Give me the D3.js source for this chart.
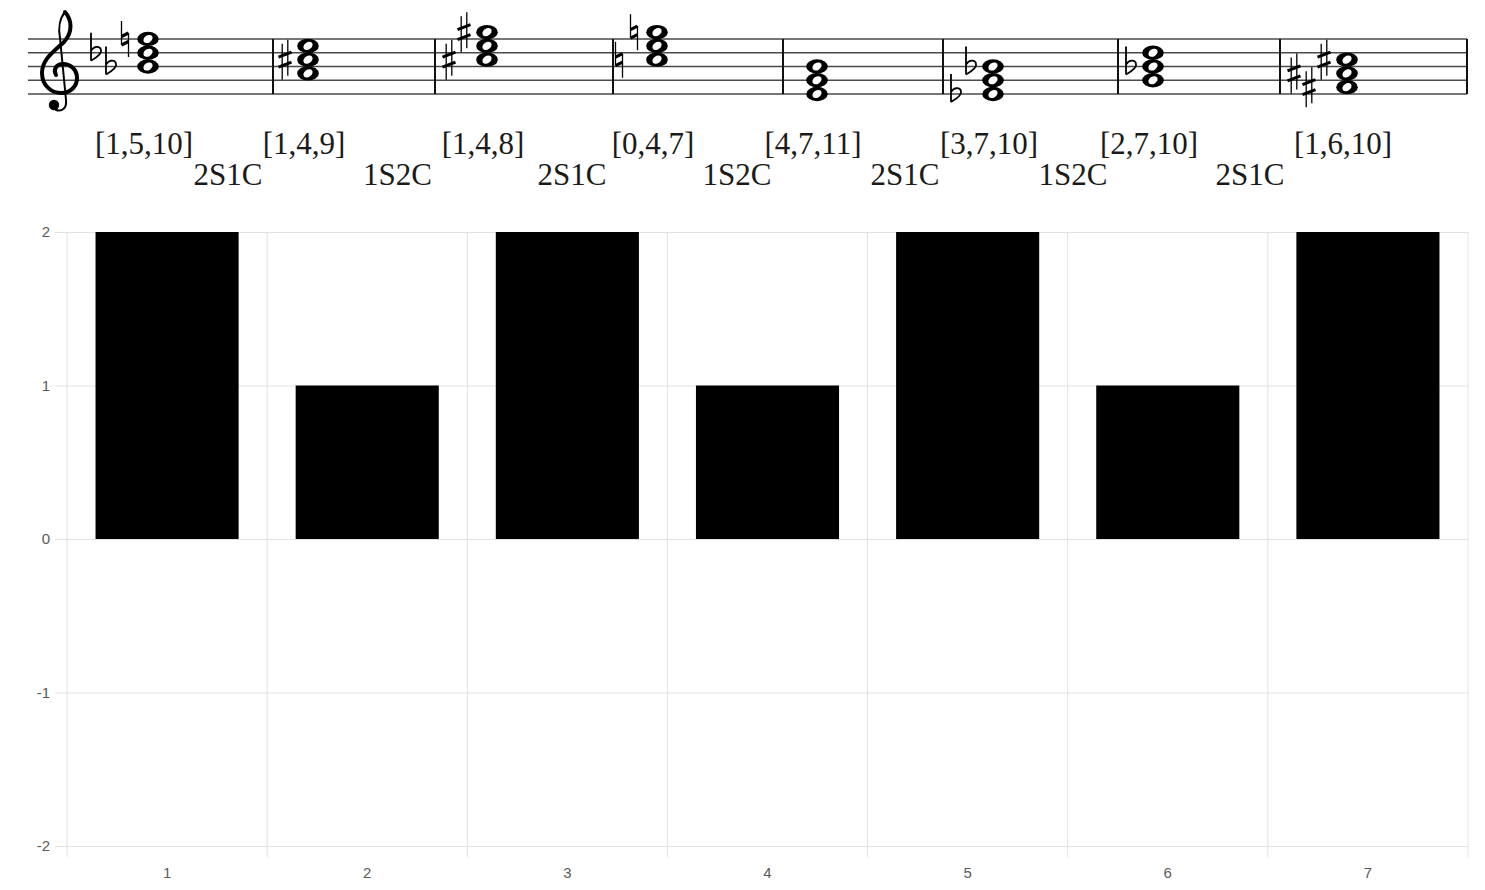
<!DOCTYPE html>
<html>
<head>
<meta charset="utf-8">
<script src="https://cdn.jsdelivr.net/npm/d3@7"></script>
<style>
  body { margin: 0; background: #fff; }
  svg { display: block; }
</style>
</head>
<body>
<svg id="chart" width="1485" height="890"></svg>
<script>
// chord data: pitch-class sets, staff steps above E4 (bottom line = 0) and accidentals
const chordLabels = ["[1,5,10]", "[1,4,9]", "[1,4,8]", "[0,4,7]", "[4,7,11]", "[3,7,10]", "[2,7,10]", "[1,6,10]"];
const chordSteps = [[4, 6, 8], [3, 5, 7], [5, 7, 9], [5, 7, 9], [0, 2, 4], [0, 2, 4], [2, 4, 6], [1, 3, 5]];
const chordAccidentals = [
  ["b", "b", "n"], ["", "#", ""], ["#", "", "#"], ["n", "", "n"],
  ["", "", ""], ["b", "", "b"], ["", "b", ""], ["#", "#", "#"]
];
const moveLabels = ["2S1C", "1S2C", "2S1C", "1S2C", "2S1C", "1S2C", "2S1C"];

// bar chart data
const categories = ["1", "2", "3", "4", "5", "6", "7"];
const values = [2, 1, 2, 1, 2, 1, 2];
const yTicks = [-2, -1, 0, 1, 2];

// staff layout (engraving positions)
const chordX = [148, 308, 487, 657, 817, 993, 1153, 1347];
const barX = [273, 435, 613, 783, 943, 1118, 1280, 1467];

const svg = d3.select("#chart");

// ---------- staff ----------
const staff = svg.append("g");
const sy = d3.scaleLinear().domain([0, 8]).range([94, 39]);

staff.selectAll("line.staff")
  .data([0, 2, 4, 6, 8])
  .join("line")
  .attr("x1", 28).attr("x2", 1467)
  .attr("y1", d => sy(d)).attr("y2", d => sy(d))
  .attr("stroke", "#4a4a4a").attr("stroke-width", 1.3);

staff.selectAll("line.bar")
  .data(barX)
  .join("line")
  .attr("x1", d => d).attr("x2", d => d)
  .attr("y1", sy(8)).attr("y2", sy(0))
  .attr("stroke", "#111").attr("stroke-width", 2);

// treble clef
const clef = staff.append("g").attr("fill", "none").attr("stroke", "#000").attr("stroke-linecap", "round");
clef.append("path")
  .attr("stroke-width", 4)
  .attr("d", "M65 12 C72 20,73 32,64 42 C52 53,42 60,42 73 C42 86,52 93,61 93 C71 93,77 86,77 78 C77 70,71 64,63 64 C56 64,53 70,56 75");
clef.append("path")
  .attr("stroke-width", 2)
  .attr("d", "M65 12 C60 18,58 28,60 38 L66 100 C67 108,62 112,56 110");
clef.append("circle").attr("cx", 54).attr("cy", 105).attr("r", 5.2).attr("fill", "#000").attr("stroke", "none");

function accidentalPath(type, cx, cy) {
  const p = d3.path();
  if (type === "#") {
    p.moveTo(cx - 2.8, cy - 16); p.lineTo(cx - 2.8, cy + 20);
    p.moveTo(cx + 2.8, cy - 20); p.lineTo(cx + 2.8, cy + 16);
  } else if (type === "n") {
    p.moveTo(cx - 3.5, cy - 18); p.lineTo(cx - 3.5, cy + 6);
    p.moveTo(cx + 3.5, cy - 6); p.lineTo(cx + 3.5, cy + 18);
  } else {
    p.moveTo(cx - 4, cy - 20); p.lineTo(cx - 4, cy + 8);
    p.moveTo(cx - 4, cy + 8);
    p.bezierCurveTo(cx + 3, cy + 4, cx + 7, cy, cx + 6, cy - 3);
    p.bezierCurveTo(cx + 5, cy - 7, cx - 1, cy - 7, cx - 4, cy - 2);
  }
  return p.toString();
}
function accidentalBars(type, cx, cy) {
  const p = d3.path();
  if (type === "#") {
    p.moveTo(cx - 6.5, cy - 2.5); p.lineTo(cx + 6.5, cy - 7.5);
    p.moveTo(cx - 6.5, cy + 7.5); p.lineTo(cx + 6.5, cy + 2.5);
  } else if (type === "n") {
    p.moveTo(cx - 3.5, cy - 2.5); p.lineTo(cx + 3.5, cy - 6);
    p.moveTo(cx - 3.5, cy + 6); p.lineTo(cx + 3.5, cy + 2.5);
  }
  return p.toString();
}

chordSteps.forEach((steps, i) => {
  const cx = chordX[i];
  const g = staff.append("g");
  // whole notes
  steps.forEach(s => {
    g.append("ellipse").attr("cx", cx).attr("cy", sy(s)).attr("rx", 10.8).attr("ry", 7.2).attr("fill", "#000");
    g.append("ellipse").attr("cx", 0).attr("cy", 0).attr("rx", 5).attr("ry", 3.6)
      .attr("transform", `translate(${cx},${sy(s)}) rotate(-35)`).attr("fill", "#fff");
  });
  // accidentals: top first, then bottom, then middle
  const acc = steps.map((s, k) => ({ s, a: chordAccidentals[i][k] })).filter(d => d.a);
  acc.sort((a, b) => b.s - a.s);
  const order = acc.length === 3 ? [acc[0], acc[2], acc[1]] : acc;
  order.forEach((d, col) => {
    const ax = cx - 23 - col * 15;
    const ay = sy(d.s);
    g.append("path").attr("d", accidentalPath(d.a, ax, ay))
      .attr("fill", "none").attr("stroke", "#000").attr("stroke-width", d.a === "b" ? 1.8 : 1.3);
    if (d.a !== "b") {
      g.append("path").attr("d", accidentalBars(d.a, ax, ay))
        .attr("fill", "none").attr("stroke", "#000").attr("stroke-width", 3.2);
    }
  });
});

// chord labels
staff.selectAll("text.chord")
  .data(chordLabels)
  .join("text")
  .attr("x", (d, i) => chordX[i] - 4)
  .attr("y", 154)
  .attr("text-anchor", "middle")
  .style("font-family", "'Liberation Serif', 'Times New Roman', serif")
  .style("font-size", "31px")
  .attr("fill", "#1a1a1a")
  .text(d => d);

staff.selectAll("text.move")
  .data(moveLabels)
  .join("text")
  .attr("x", (d, i) => (chordX[i] + chordX[i + 1]) / 2)
  .attr("y", 185)
  .attr("text-anchor", "middle")
  .style("font-family", "'Liberation Serif', 'Times New Roman', serif")
  .style("font-size", "31px")
  .attr("fill", "#1a1a1a")
  .text(d => d);

// ---------- bar chart ----------
const x0 = 67, x1 = 1468;
const x = d3.scaleBand().domain(categories).range([x0, x1]).padding(0);
const xb = d3.scaleBand().domain(categories).range([x0, x1]).paddingInner(0.285).paddingOuter(0.1425);
const y = d3.scaleLinear().domain([-2, 2]).range([846, 232]);
const GRID = "#e2e2e2";

const chart = svg.append("g");

// vertical grid lines at category boundaries
const bounds = categories.map(c => x(c)).concat([x1]);
chart.selectAll("line.vgrid")
  .data(bounds)
  .join("line")
  .attr("x1", d => d).attr("x2", d => d)
  .attr("y1", y(2)).attr("y2", y(-2) + 11)
  .attr("stroke", GRID).attr("stroke-width", 1);

// y axis with full-width grid
const yAxis = chart.append("g")
  .attr("transform", `translate(${x0 - 12},0)`)
  .call(d3.axisLeft(y).tickValues(yTicks).tickFormat(d => String(d)).tickSize(-(x1 - x0 + 12)).tickPadding(5));
yAxis.select(".domain").remove();
yAxis.selectAll(".tick line").attr("stroke", GRID);
yAxis.selectAll(".tick text")
  .attr("fill", "#5a5a5a")
  .style("font-family", "'Liberation Sans', Arial, sans-serif")
  .style("font-size", "15px");

// x axis labels
const xAxis = chart.append("g")
  .attr("transform", `translate(0,${y(-2)})`)
  .call(d3.axisBottom(x).tickSize(0).tickPadding(21));
xAxis.select(".domain").remove();
xAxis.selectAll(".tick text")
  .attr("fill", "#5a5a5a")
  .style("font-family", "'Liberation Sans', Arial, sans-serif")
  .style("font-size", "15px");

// bars
chart.selectAll("rect.bar")
  .data(values)
  .join("rect")
  .attr("x", (d, i) => xb(categories[i]))
  .attr("width", xb.bandwidth())
  .attr("y", d => y(Math.max(0, d)))
  .attr("height", d => Math.abs(y(d) - y(0)))
  .attr("fill", "#000");
</script>
</body>
</html>
